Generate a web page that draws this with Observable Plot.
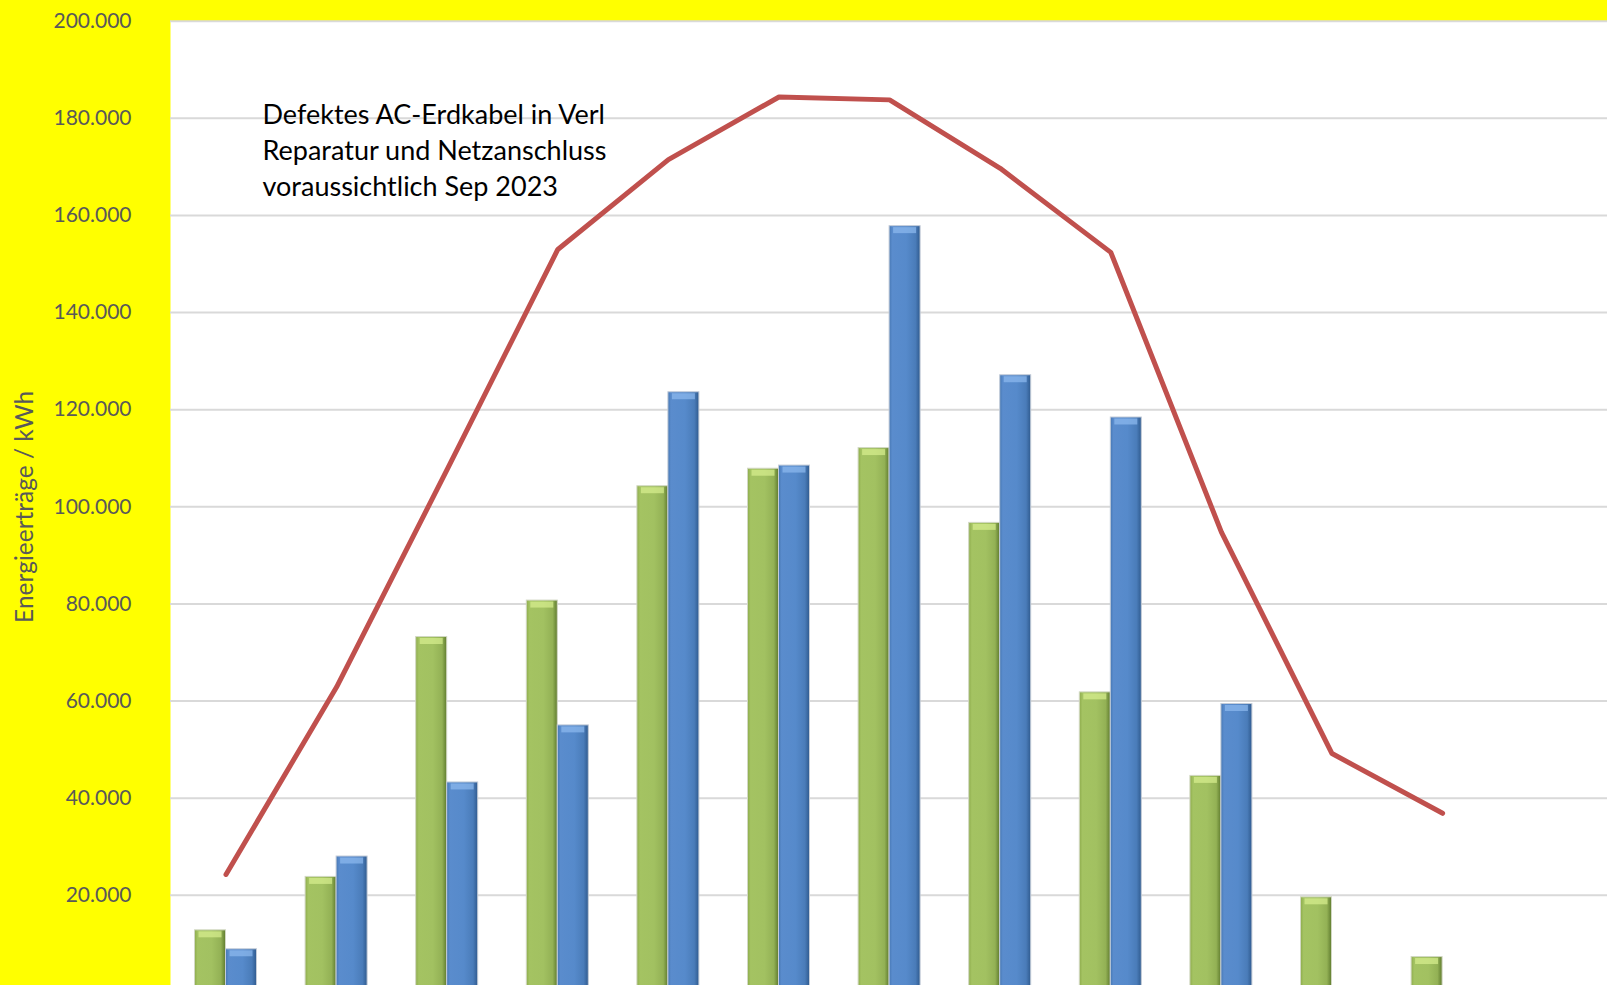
<!DOCTYPE html>
<html>
<head>
<meta charset="utf-8">
<script src="https://cdn.jsdelivr.net/npm/d3@7"></script>
<script src="https://cdn.jsdelivr.net/npm/@observablehq/plot@0.6"></script>
<style>
html, body { margin: 0; padding: 0; background: #ffff00; overflow: hidden; width: 1607px; height: 985px; }
#chart svg { display: block; }
</style>
</head>
<body>
<div id="chart"></div>
<script>
// ---- data ----
const months = ["Jan", "Feb", "Mär", "Apr", "Mai", "Jun", "Jul", "Aug", "Sep", "Okt", "Nov", "Dez"];
const seriesGreen = [12800, 23800, 73200, 80700, 104250, 107850, 112100, 96700, 61800, 44600, 19600, 7300];
const seriesBlue  = [8900, 28000, 43250, 55000, 123600, 108500, 157800, 127100, 118400, 59400, null, null];
const seriesLine  = [24300, 62900, 107700, 153000, 171500, 184400, 183800, 169700, 152400, 94800, 49200, 36900];
const yTicks = [20000, 40000, 60000, 80000, 100000, 120000, 140000, 160000, 180000, 200000];
const yLabel = "Energieerträge / kWh";
const noteLines = ["Defektes AC-Erdkabel in Verl", "Reparatur und Netzanschluss", "voraussichtlich Sep 2023"];

const greenData = months.map((m, i) => ({month: m, value: seriesGreen[i]})).filter(d => d.value != null);
const blueData  = months.map((m, i) => ({month: m, value: seriesBlue[i]})).filter(d => d.value != null);
const lineData  = months.map((m, i) => ({month: m, value: seriesLine[i]}));

const fmt = d => d3.format(",")(d).replace(/,/g, ".");
const font = "Lato, 'Open Sans', sans-serif";

const band = 110.6, barW = 31;
const inOuter = band / 2 - barW;

const plot = Plot.plot({
  width: 1607,
  height: 992,
  marginTop: 20.7,
  marginLeft: 170,
  marginRight: 0,
  marginBottom: 0,
  style: {background: "transparent", fontFamily: font},
  x: {domain: months, type: "band", padding: 0, round: false, range: [170.2, 170.2 + 12 * band], axis: null},
  y: {domain: [0, 200000]},
  marks: [
    Plot.frame({fill: "white", stroke: "none"}),
    Plot.gridY(yTicks, {stroke: "#d9d9d9", strokeOpacity: 1, strokeWidth: 2}),
    Plot.axisY(yTicks, {
      tickSize: 0, tickPadding: 39, tickFormat: fmt,
      fontSize: 21, fill: "#595959", label: null
    }),
    Plot.axisY(yTicks, {
      tickSize: 0, ticks: [], tickFormat: () => "",
      fontSize: 24.5, fill: "#595959",
      label: yLabel, labelAnchor: "center", labelOffset: 155, labelArrow: false
    }),
    Plot.barY(greenData, {x: "month", y: "value", fill: "url(#gGreen)", stroke: "#d2d8c4", strokeWidth: 1,
      insetLeft: inOuter, insetRight: band / 2}),
    Plot.barY(blueData, {x: "month", y: "value", fill: "url(#gBlue)", stroke: "#c4ccd8", strokeWidth: 1,
      insetLeft: band / 2, insetRight: inOuter}),
    Plot.tickY(greenData, {x: "month", y: "value", stroke: "#d8f090", strokeOpacity: 0.7, strokeWidth: 6, dy: 4,
      insetLeft: inOuter + 4, insetRight: band / 2 + 4}),
    Plot.tickY(blueData, {x: "month", y: "value", stroke: "#8fbbef", strokeOpacity: 0.7, strokeWidth: 6, dy: 4,
      insetLeft: band / 2 + 4, insetRight: inOuter + 4}),
    Plot.line(lineData, {x: "month", y: "value", stroke: "#c0504d", strokeWidth: 5,
      strokeLinecap: "round", strokeLinejoin: "round"}),
    Plot.text([noteLines.join("\n")], {
      frameAnchor: "top-left", textAnchor: "start", lineAnchor: "top",
      dx: 92, dy: 77, fontSize: 27, lineHeight: 1.333, fill: "#000000", fontFamily: font
    })
  ]
});

// gradient definitions for the bevelled bars
const defs = d3.select(plot).insert("defs", ":first-child");
function grad(id, stops) {
  const g = defs.append("linearGradient").attr("id", id).attr("x1", "0").attr("x2", "1").attr("y1", "0").attr("y2", "0");
  stops.forEach(([o, c]) => g.append("stop").attr("offset", o).attr("stop-color", c));
}
grad("gGreen", [["0", "#8dab4c"], ["0.1", "#a4c362"], ["0.55", "#a2c161"], ["0.85", "#93b155"], ["1", "#5f7b2e"]]);
grad("gBlue", [["0", "#4677b3"], ["0.1", "#5a8ccd"], ["0.55", "#568acb"], ["0.85", "#4a7cb9"], ["1", "#2f5a8e"]]);

document.getElementById("chart").appendChild(plot);
</script>
</body>
</html>
